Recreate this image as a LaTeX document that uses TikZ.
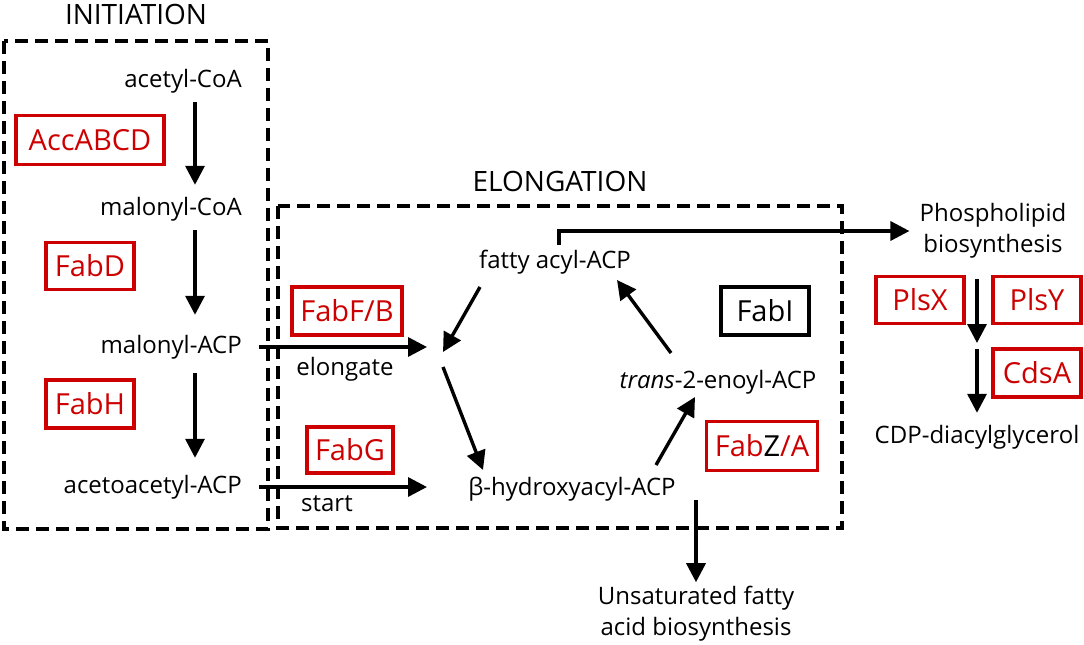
\documentclass[tikz,border=0pt]{standalone}
\usepackage{fontspec}
\setmainfont{Open Sans}
\usetikzlibrary{arrows.meta}
\definecolor{enzred}{RGB}{204,0,0}

\begin{document}
\begin{tikzpicture}[x=1pt,y=-1pt,
  met/.style={inner sep=0pt, text height=17pt, text depth=5pt, font=\fontsize{24}{32}\selectfont},
  twoline/.style={inner sep=0pt, align=center, font=\fontsize{24}{31}\selectfont},
  stage/.style={inner sep=0pt, font=\fontsize{28}{32}\selectfont},
  enz/.style={draw=enzred, text=enzred, line width=3.3pt, minimum width=88pt,
    minimum height=47pt, inner sep=0pt, font=\fontsize{29}{34}\selectfont},
  frame/.style={draw, dash pattern=on 13pt off 7pt, line width=3.2pt},
  arr/.style={-{Triangle[length=19pt,width=19pt]}, line width=3.4pt},
]
\useasboundingbox (0,0) rectangle (1084,645);

% Stage frames and titles
\draw[frame] (4,41) rectangle (268,529);
\draw[frame] (278,206) rectangle (842,528);
\node[stage] (initiation) at (136,14) {INITIATION};
\node[stage] (elongation) at (560,181) {ELONGATION};

% Initiation
\coordinate (col) at (195,0);
\node[met, anchor=east] (acetyl) at (242,81) {acetyl-CoA};
\node[met, anchor=east] (malonylCoA) at (242,209) {malonyl-CoA};
\node[met, anchor=east] (malonylACP) at (242,347) {malonyl-ACP};
\node[met, anchor=east] (acetoacetyl) at (242,487) {acetoacetyl-ACP};

\node[enz, minimum width=148pt, minimum height=49pt] (accabcd) at (90,140) {AccABCD};
\node[enz] (fabd) at (90,266) {FabD};
\node[enz, minimum height=48pt] (fabh) at (90,404) {FabH};

\draw[arr, shorten <=10pt, shorten >=13pt] (acetyl.south -| col) -- (malonylCoA.north -| col);
\draw[arr, shorten <=10pt, shorten >=21pt] (malonylCoA.south -| col) -- (malonylACP.north -| col);
\draw[arr, shorten <=15pt, shorten >=18pt] (malonylACP.south -| col) -- (acetoacetyl.north -| col);

% Elongation cycle
\coordinate (join) at (443,352);
\node[met] (fatty) at (555,262) {fatty acyl-ACP};
\node[met] (hydroxy) at (572,489) {β-hydroxyacyl-ACP};
\node[met] (enoyl) at (718,382) {\textit{trans}-2-enoyl-ACP};

\node[enz, minimum width=110pt, minimum height=48pt] (fabfb) at (347,311) {FabF/B};
\node[enz, minimum width=86pt, minimum height=46pt] (fabg) at (350,450) {FabG};
\node[enz, draw=black, text=black, minimum height=48pt] (fabi) at (765,311) {FabI};
\node[enz, text=black, minimum width=111pt, minimum height=49pt] (fabza) at (762,446)
  {\textcolor{enzred}{Fab}Z\textcolor{enzred}{/A}};

\draw[arr, shorten <=17pt, shorten >=16pt] (malonylACP.east) -- (malonylACP.east -| join);
\node[met] (elongate) at (345,369) {elongate};
\draw[arr, shorten <=17pt, shorten >=16pt] (acetoacetyl.east) -- (acetoacetyl.east -| join);
\node[met] (start) at (327,505) {start};

\draw[arr] ([shift={(-75,25)}]fatty.center) -- (join);
\draw[arr] ([shift={(0,15)}]join) -- ([shift={(-89,-19)}]hydroxy.center);
\draw[arr] ([shift={(84,-24)}]hydroxy.center) -- ([shift={(-23,15)}]enoyl.center);
\draw[arr] ([shift={(-47,-29)}]enoyl.center) -- ([shift={(62,18)}]fatty.center);

% Phospholipid branch
\node[twoline] (phospho) at (993,231) {Phospholipid\\biosynthesis};
\coordinate (mid) at (977,346);
\node[met] (cdp) at (977,437) {CDP-diacylglycerol};
\node[enz] (plsx) at (920,300) {PlsX};
\node[enz] (plsy) at (1037,300) {PlsY};
\node[enz, minimum height=48pt] (cdsa) at (1037,373) {CdsA};

\draw[arr, shorten >=10pt] ([shift={(4,-6)}]fatty.north) |- (phospho.west);
\draw[arr, shorten <=20pt, shorten >=3pt] (phospho.south -| mid) -- (mid);
\draw[arr, shorten <=3pt, shorten >=13pt] (mid) -- (cdp.north);

% Unsaturated branch
\node[twoline] (unsat) at (696,614) {Unsaturated fatty\\acid biosynthesis};
\draw[arr, shorten >=4pt] (hydroxy.south -| unsat.north) -- (unsat.north);

\end{tikzpicture}
\end{document}
